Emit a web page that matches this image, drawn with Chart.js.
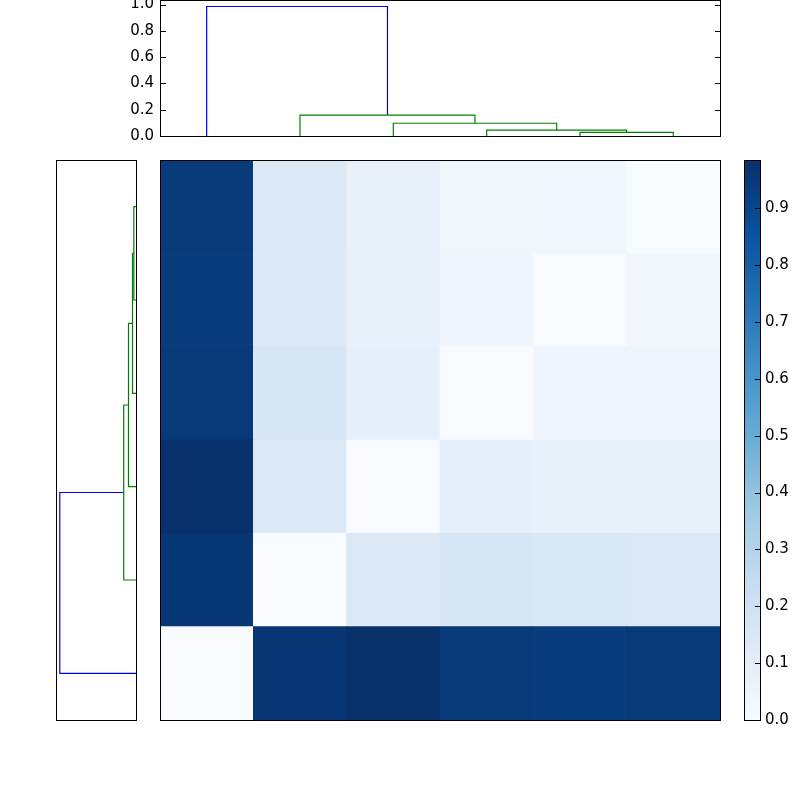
<!DOCTYPE html>
<html>
<head>
<meta charset="utf-8">
<script src="https://cdn.jsdelivr.net/npm/chart.js@4.4.0/dist/chart.umd.min.js"></script>
<style>
body { margin:0; width:800px; height:800px; overflow:hidden; position:relative; background:#fff; }
.box { position:absolute; }
.box canvas { display:block; }
</style>
</head>
<body>
<div class="box" id="topBox"><canvas id="topDendro"></canvas></div>
<div class="box" id="leftBox"><canvas id="leftDendro"></canvas></div>
<div class="box" id="heatBox"><canvas id="heat"></canvas></div>
<div class="box" id="cbarBox"><canvas id="cbar"></canvas></div>

<script>
// leaves and linkage (scipy style: merge left+right at height)
var leafLabels = ['0', '1', '2', '3', '4', '5'];
var linkLeft   = [4, 3, 2, 1, 0];
var linkRight  = [5, 6, 7, 8, 9];
var linkHeight = [0.028, 0.045, 0.097, 0.159, 0.985];

// distance matrix, row 0 at the bottom
var row0 = [0.00, 0.965, 0.985, 0.95, 0.94, 0.95];
var row1 = [0.96, 0.00, 0.14, 0.16, 0.15, 0.14];
var row2 = [0.985, 0.14, 0.00, 0.09, 0.08, 0.08];
var row3 = [0.95, 0.16, 0.09, 0.00, 0.045, 0.045];
var row4 = [0.94, 0.135, 0.075, 0.045, 0.00, 0.03];
var row5 = [0.95, 0.14, 0.075, 0.04, 0.035, 0.00];

var dendroTicks = [0.0, 0.2, 0.4, 0.6, 0.8, 1.0];
var colorTicks = [0.0, 0.1, 0.2, 0.3, 0.4, 0.5, 0.6, 0.7, 0.8, 0.9];

var bluesStops = ['#f7fbff','#deebf7','#c6dbef','#9ecae1','#6baed6','#4292c6','#2171b5','#08519c','#08306b'];

function hexRgb(h) {
  return [parseInt(h.substr(1,2),16), parseInt(h.substr(3,2),16), parseInt(h.substr(5,2),16)];
}
function blues(t) {
  t = Math.max(0, Math.min(1, t)) * 8;
  var i = Math.min(7, Math.floor(t)), f = t - i;
  var a = hexRgb(bluesStops[i]), b = hexRgb(bluesStops[i+1]);
  return 'rgb(' + [0,1,2].map(function(k){ return Math.round(a[k] + (b[k]-a[k])*f); }).join(',') + ')';
}

var rows = [row0, row1, row2, row3, row4, row5];
var vmax = Math.max.apply(null, rows.map(function(r){ return Math.max.apply(null, r); }));
var dmax = Math.max.apply(null, linkHeight) * 1.05;
var threshold = 0.7 * Math.max.apply(null, linkHeight);

// dendrogram link shapes from the linkage
var pos = leafLabels.map(function(l, i){ return 5 + 10*i; });
var hgt = leafLabels.map(function(){ return 0; });
var links = [];
for (var j = 0; j < linkLeft.length; j++) {
  var a = linkLeft[j], b = linkRight[j], h = linkHeight[j];
  links.push({
    pts: [[pos[a], hgt[a]], [pos[a], h], [pos[b], h], [pos[b], hgt[b]]],
    color: h >= threshold ? '#0000ff' : '#008000'
  });
  pos.push((pos[a] + pos[b]) / 2);
  hgt.push(h);
}

Chart.defaults.font.family = 'DejaVu Sans';
Chart.defaults.font.size = 15;
Chart.defaults.color = '#000';

var framePlugin = {
  id: 'frame',
  afterDraw: function(chart, args, opts) {
    var a = chart.chartArea, c = chart.ctx;
    c.save();
    c.strokeStyle = '#000';
    c.lineWidth = 1;
    c.strokeRect(a.left + 0.5, a.top + 0.5, a.right - a.left, a.bottom - a.top);
    (opts.ticks || []).forEach(function(t) {
      var s = chart.scales[t.scale];
      s.ticks.forEach(function(tk) {
        var p = Math.round(s.getPixelForValue(tk.value)) + 0.5;
        c.beginPath();
        if (t.side == 'left') { c.moveTo(a.left, p); c.lineTo(a.left + 6, p); }
        else { c.moveTo(a.right + 1, p); c.lineTo(a.right - 5, p); }
        c.stroke();
      });
    });
    c.restore();
  }
};
Chart.register(framePlugin);

var PAD = 20;
function place(boxId, canvasId, x, y, w, h, axL, axR) {
  var box = document.getElementById(boxId);
  var cv = document.getElementById(canvasId);
  box.style.left = (x - PAD - axL) + 'px';
  box.style.top = (y - PAD) + 'px';
  cv.width = PAD + axL + w + axR + PAD;
  cv.height = PAD + h + PAD;
  return cv;
}

function baseOpts() {
  return {
    responsive: false, animation: false, devicePixelRatio: 1,
    layout: { padding: PAD },
    plugins: { legend: { display: false }, tooltip: { enabled: false } }
  };
}

function linkSets(swap) {
  return links.map(function(l) {
    return {
      data: l.pts.map(function(p){ return swap ? {x: p[1], y: p[0]} : {x: p[0], y: p[1]}; }),
      showLine: true, borderColor: l.color, borderWidth: 1.2,
      pointRadius: 0, tension: 0, fill: false
    };
  });
}

// top dendrogram
var o1 = baseOpts();
o1.scales = {
  x: { type: 'linear', min: 0, max: 10*leafLabels.length, display: false },
  y: {
    type: 'linear', min: 0, max: dmax, position: 'left',
    grid: { display: false, drawTicks: false }, border: { display: false },
    ticks: { padding: 6, callback: function(v){ return v.toFixed(1); } },
    afterBuildTicks: function(s){ s.ticks = dendroTicks.map(function(v){ return {value: v}; }); },
    afterFit: function(s){ s.width = 60; }
  }
};
o1.plugins.frame = { ticks: [{scale: 'y', side: 'left'}, {scale: 'y', side: 'right'}] };
new Chart(place('topBox', 'topDendro', 160, 0, 560, 136, 60, 0), {
  type: 'scatter', data: { datasets: linkSets(false) }, options: o1
});

// left dendrogram
var o2 = baseOpts();
o2.scales = {
  x: { type: 'linear', min: 0, max: dmax, reverse: true, display: false },
  y: { type: 'linear', min: 0, max: 10*leafLabels.length, display: false }
};
new Chart(place('leftBox', 'leftDendro', 56, 160, 80, 560, 0, 0), {
  type: 'scatter', data: { datasets: linkSets(true) }, options: o2
});

// heatmap
var o3 = baseOpts();
o3.scales = {
  x: { type: 'category', display: false },
  y: { type: 'linear', min: 0, max: rows.length, display: false }
};
new Chart(place('heatBox', 'heat', 160, 160, 560, 560, 0, 0), {
  type: 'bar',
  data: {
    labels: leafLabels,
    datasets: rows.map(function(vals, r) {
      return {
        data: vals.map(function(){ return [r, r + 1]; }),
        backgroundColor: vals.map(function(v){ return blues(v / vmax); }),
        grouped: false, barPercentage: 1, categoryPercentage: 1, borderWidth: 0
      };
    })
  },
  options: o3
});

// colorbar
var o4 = baseOpts();
o4.scales = {
  x: { type: 'category', display: false },
  y: {
    type: 'linear', min: 0, max: vmax, position: 'right',
    grid: { display: false, drawTicks: false }, border: { display: false },
    ticks: { padding: 5, callback: function(v){ return v.toFixed(1); } },
    afterBuildTicks: function(s){ s.ticks = colorTicks.map(function(v){ return {value: v}; }); },
    afterFit: function(s){ s.width = 40; }
  }
};
o4.plugins.frame = { ticks: [{scale: 'y', side: 'right'}] };
new Chart(place('cbarBox', 'cbar', 744, 160, 16, 560, 0, 40), {
  type: 'bar',
  data: {
    labels: ['cbar'],
    datasets: [{
      data: [[0, vmax]],
      backgroundColor: function(ctx) {
        var a = ctx.chart.chartArea;
        if (!a) return bluesStops[0];
        var g = ctx.chart.ctx.createLinearGradient(0, a.bottom, 0, a.top);
        bluesStops.forEach(function(c, i){ g.addColorStop(i / 8, c); });
        return g;
      },
      barPercentage: 1, categoryPercentage: 1, borderWidth: 0
    }]
  },
  options: o4
});
</script>
</body>
</html>
